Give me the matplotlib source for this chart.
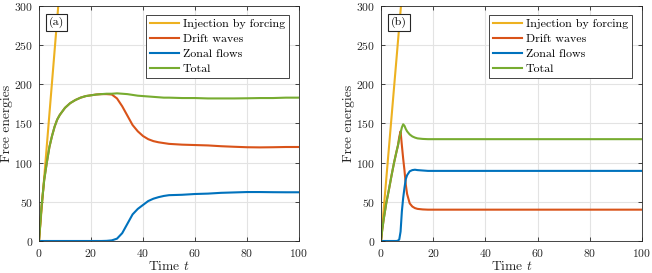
import matplotlib
matplotlib.use("Agg")
import matplotlib.pyplot as plt

plt.rcParams['font.family'] = 'serif'
plt.rcParams['font.serif'] = ['cmr10']
plt.rcParams['mathtext.fontset'] = 'cm'
plt.rcParams['axes.formatter.use_mathtext'] = True

# ---- data panel (a) ----
inj_a_t = [0, 10]
inj_a = [0, 405]
t_a = [0, 1, 2, 3, 4, 5, 6, 7, 8, 10, 12, 14, 16, 18, 20, 22, 24, 26, 28, 30,
       32, 34, 36, 38, 40, 42, 44, 46, 48, 50, 55, 60, 65, 70, 75, 80, 85, 90, 95, 100]
total_a = [0, 45, 78, 100, 120, 134, 146, 155, 161, 170, 176, 180, 183, 185, 186, 187,
           187.5, 188, 188, 188.5, 188, 187.5, 186.5, 185.5, 185, 184.5, 184, 183.5, 183, 183,
           182.5, 182.5, 182, 182, 182, 182.2, 182.5, 182.5, 183, 183]
dw_a = [0, 45, 78, 100, 120, 134, 146, 155, 161, 170, 176, 180, 183, 185, 186, 187,
        187.5, 187.5, 187, 182, 172, 160, 148, 140, 134, 130, 127.5, 126, 125, 124,
        123, 122.5, 122, 121, 120.3, 119.7, 119.5, 119.7, 120, 120]
zf_a = [0, 0, 0, 0, 0, 0, 0, 0, 0, 0, 0, 0, 0, 0, 0, 0,
        0, 0.2, 0.8, 3, 10, 22, 34, 41, 46, 51, 54, 56, 57.5, 58.5,
        59, 60, 60.5, 61.5, 62, 62.5, 62.5, 62.3, 62.2, 62.2]

# ---- data panel (b) ----
inj_b_t = [0, 10]
inj_b = [0, 392]
t_b = [0, 0.5, 1, 2, 3, 4, 5, 6, 6.5, 7, 7.5, 8, 8.5, 9, 9.5, 10, 11, 12, 13, 14,
       16, 18, 20, 25, 30, 40, 50, 60, 70, 80, 90, 100]
total_b = [0, 15, 27, 48, 65, 83, 100, 115, 122, 130, 138, 145, 149, 147, 143, 140,
           136, 133.5, 132, 131, 130.3, 130, 130, 130, 130, 130, 130, 130, 130, 130, 130, 130]
dw_b = [0, 15, 27, 48, 65, 83, 100, 115, 122, 133, 140, 122, 105, 90, 72, 60,
        48, 44, 42, 41, 40.3, 40, 40, 40, 40, 40, 40, 40, 40, 40, 40, 40]
zf_b = [0, 0, 0, 0, 0, 0, 0, 0, 0.5, 2, 12, 38, 55, 68, 79, 84,
        89, 90.5, 91, 90.5, 90, 89.5, 89.5, 89.5, 89.5, 89.5, 89.5, 89.5, 89.5, 89.5, 89.5, 89.5]

labels = ['Injection by forcing', 'Drift waves', 'Zonal flows', 'Total']
colors = ['#EDB120', '#D95319', '#0072BD', '#77AC30']
xticks = [0, 20, 40, 60, 80, 100]
yticks = [0, 50, 100, 150, 200, 250, 300]

fig = plt.figure(figsize=(6.52, 2.73), dpi=100)
axa = fig.add_axes([39/652, 1-241/273, 260/652, 235/273])
axb = fig.add_axes([381/652, 1-241/273, 261/652, 235/273])

panels = [
    (axa, '(a)', inj_a_t, inj_a, t_a, dw_a, zf_a, total_a),
    (axb, '(b)', inj_b_t, inj_b, t_b, dw_b, zf_b, total_b),
]
for ax, tag, it, iv, t, dw, zf, tot in panels:
    ax.plot(it, iv, color=colors[0], lw=1.5, label=labels[0])
    ax.plot(t, dw, color=colors[1], lw=1.5, label=labels[1])
    ax.plot(t, zf, color=colors[2], lw=1.5, label=labels[2])
    ax.plot(t, tot, color=colors[3], lw=1.5, label=labels[3])
    ax.set_xlim(0, 100)
    ax.set_ylim(0, 300)
    ax.set_xticks(xticks)
    ax.set_yticks(yticks)
    ax.grid(True, color='#e3e3e3', lw=0.8)
    ax.set_axisbelow(True)
    ax.tick_params(direction='in', top=True, right=True, length=3, width=0.6,
                   labelsize=8.4, colors='#262626', pad=4)
    for s in ax.spines.values():
        s.set_color('#262626')
        s.set_linewidth(0.6)
    ax.set_xlabel('Time $t$', fontsize=9.7, color='#262626', labelpad=1)
    ax.set_ylabel('Free energies', fontsize=9.7, color='#262626', labelpad=1)
    leg = ax.legend(loc='upper right', bbox_to_anchor=(0.962, 0.962), borderaxespad=0,
                    fontsize=8.6, handlelength=2.4, handletextpad=0.35, labelspacing=0.38,
                    fancybox=False, framealpha=1, edgecolor='#262626', borderpad=0.35)
    leg.get_frame().set_linewidth(0.6)
    ax.text(0.068, 0.93, tag, transform=ax.transAxes, fontsize=8.6, ha='center', va='center',
            bbox=dict(boxstyle='square,pad=0.25', fc='white', ec='#262626', lw=0.8))

fig.savefig('out.png', dpi=100)
